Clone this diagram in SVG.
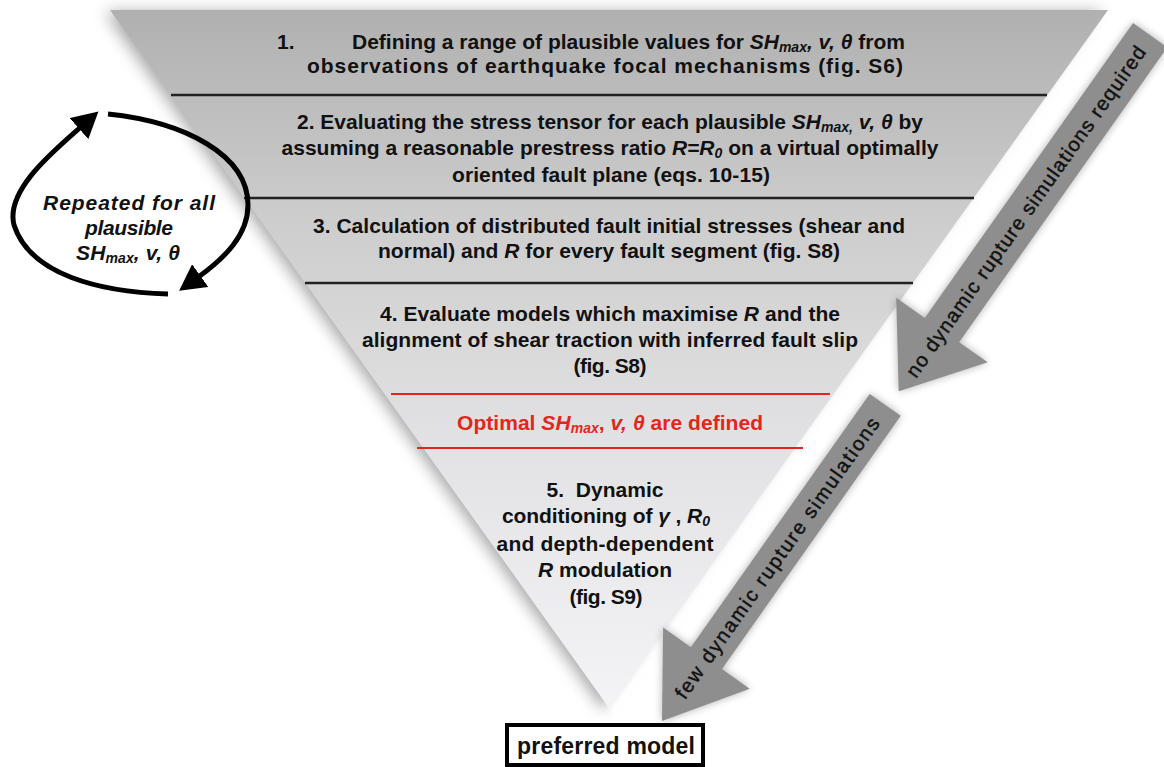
<svg xmlns="http://www.w3.org/2000/svg" width="1164" height="767" viewBox="0 0 1164 767">
<style>
.t{font-family:"Liberation Sans",Arial,sans-serif;font-weight:bold;font-size:21px;fill:#111}
.c{text-anchor:middle}
.i{font-style:italic}
.sub{font-style:italic;font-size:14px}
.red{fill:#e3261c}
.ar{font-family:"Liberation Sans",Arial,sans-serif;font-size:20px;fill:#111;stroke:#111;stroke-width:0.45;text-anchor:middle}
.hl{stroke:#222;stroke-width:2.5}
.rl{stroke:#e3261c;stroke-width:2}
.cyc{fill:none;stroke:#000;stroke-width:5}
.arrow{fill:#8e8e8e}
</style>
<defs>
<linearGradient id="tri" x1="0" y1="10" x2="0" y2="708" gradientUnits="userSpaceOnUse">
<stop offset="0" stop-color="#b0b0b0"/>
<stop offset="0.3" stop-color="#cdcdcd"/>
<stop offset="0.6" stop-color="#e1e1e3"/>
<stop offset="1" stop-color="#f4f4f6"/>
</linearGradient>
<filter id="blur" x="-20%" y="-20%" width="140%" height="140%"><feGaussianBlur stdDeviation="8"/></filter>
<filter id="blur2" x="-20%" y="-20%" width="140%" height="140%"><feGaussianBlur stdDeviation="4"/></filter>
<filter id="blur3" x="-20%" y="-20%" width="140%" height="140%"><feGaussianBlur stdDeviation="3"/></filter>
<marker id="ah" markerUnits="userSpaceOnUse" markerWidth="26" markerHeight="28" viewBox="0 0 26 28" refX="4" refY="14" orient="auto">
<path d="M0,0 L26,14 L0,28 z" fill="#000"/>
</marker>
</defs>
<rect width="1164" height="767" fill="#fff"/>

<g id="funnel">
<polygon points="110,10 1108,10 609,708" fill="#000" opacity="0.35" filter="url(#blur)" transform="translate(-5,2)"/>
<polygon points="1106,10 1128,10 618,722 608,708" fill="#fff" opacity="0.9" filter="url(#blur3)"/>
<polygon points="110,10 1108,10 609,708" fill="url(#tri)"/>
<line class="hl" x1="171" y1="95" x2="1047" y2="95"/>
<line class="hl" x1="244" y1="198" x2="974" y2="198"/>
<line class="hl" x1="305" y1="283" x2="913" y2="283"/>
<line class="rl" x1="391" y1="394" x2="830" y2="394"/>
<line class="rl" x1="417" y1="448" x2="803" y2="448"/>
</g>

<g id="step1">
<text class="t" x="277" y="49">1.</text>
<text class="t" x="352" y="49" textLength="553">Defining a range of plausible values for <tspan class="i">SH</tspan><tspan class="sub" dy="3">max</tspan><tspan class="i" dy="-3">, v, θ</tspan> from</text>
<text class="t c" x="605" y="73" textLength="596">observations of earthquake focal mechanisms (fig. S6)</text>
</g>

<g id="step2">
<text class="t c" x="610" y="129" textLength="626">2. Evaluating the stress tensor for each plausible <tspan class="i">SH</tspan><tspan class="sub" dy="3">max,</tspan><tspan class="i" dy="-3"> v, θ</tspan> by</text>
<text class="t c" x="610" y="155" textLength="657">assuming a reasonable prestress ratio <tspan class="i">R=R</tspan><tspan class="sub" dy="3">0</tspan><tspan dy="-3"> on a virtual optimally</tspan></text>
<text class="t c" x="611" y="182" textLength="318">oriented fault plane (eqs. 10-15)</text>
</g>

<g id="step3">
<text class="t c" x="609" y="233" textLength="592">3. Calculation of distributed fault initial stresses (shear and</text>
<text class="t c" x="609" y="258" textLength="462">normal) and <tspan class="i">R</tspan> for every fault segment (fig. S8)</text>
</g>

<g id="step4">
<text class="t c" x="610" y="321" textLength="460">4. Evaluate models which maximise <tspan class="i">R</tspan> and the</text>
<text class="t c" x="610" y="347" textLength="496">alignment of shear traction with inferred fault slip</text>
<text class="t c" x="610" y="373" textLength="73">(fig. S8)</text>
</g>

<g id="optimal">
<text class="t c red" x="610" y="430" textLength="306">Optimal <tspan class="i">SH</tspan><tspan class="sub" dy="3">max</tspan><tspan dy="-3">, </tspan><tspan class="i">v, θ</tspan> are defined</text>
</g>

<g id="step5">
<text class="t c" x="605" y="497" textLength="117" xml:space="preserve">5.  Dynamic</text>
<text class="t c" x="606" y="523" textLength="208">conditioning of <tspan class="i">γ</tspan> , <tspan class="i">R</tspan><tspan class="sub" dy="3">0</tspan></text>
<text class="t c" x="605" y="551" textLength="217">and depth-dependent</text>
<text class="t c" x="605" y="577" textLength="134"><tspan class="i">R</tspan> modulation</text>
<text class="t c" x="606" y="604" textLength="73">(fig. S9)</text>
</g>

<g id="cycle">
<text class="t c i" x="129" y="210" textLength="172">Repeated for all</text>
<text class="t c i" x="129" y="235" textLength="88">plausible</text>
<text class="t c i" x="128" y="260" textLength="104">SH<tspan class="sub" dy="3">max</tspan><tspan dy="-3">, v, θ</tspan></text>
</g>

<g id="preferred">
<rect x="507" y="725" width="196" height="40" fill="#fff" stroke="#000" stroke-width="4"/>
<text class="t c" x="606" y="754" style="font-size:23px" textLength="178">preferred model</text>
</g>

<g id="arrow-no">
<g transform="translate(898.7,391.3) rotate(125.23)">
<polygon points="0,0 -75,-56 -75,-21 -436,-21 -436,21 -75,21 -75,56" fill="#000" opacity="0.3" filter="url(#blur2)"/>
<polygon class="arrow" points="0,0 -75,-56 -75,-21 -436,-21 -436,21 -75,21 -75,56"/>
</g>
<text class="ar" transform="translate(1025.7,211.6) rotate(-54.77)" x="0" y="7" textLength="400">no dynamic rupture simulations required</text>
</g>

<g id="arrow-few">
<g transform="translate(662,721) rotate(125.23)">
<polygon points="0,0 -77,-53 -77,-19 -387,-19 -387,19 -77,19 -77,53" fill="#000" opacity="0.3" filter="url(#blur2)"/>
<polygon class="arrow" points="0,0 -77,-53 -77,-19 -387,-19 -387,19 -77,19 -77,53"/>
</g>
<text class="ar" transform="translate(777,558) rotate(-54.77)" x="0" y="7" textLength="339">few dynamic rupture simulations</text>
</g>

<g id="connectors">
<path class="cyc" d="M108,114 C185,122 248,155 248,205 C248,235 225,258 197,278" marker-end="url(#ah)"/>
<path class="cyc" d="M168,294 C100,292 30,275 14,225 C5,190 55,150 82,126" marker-end="url(#ah)"/>
</g>
</svg>
